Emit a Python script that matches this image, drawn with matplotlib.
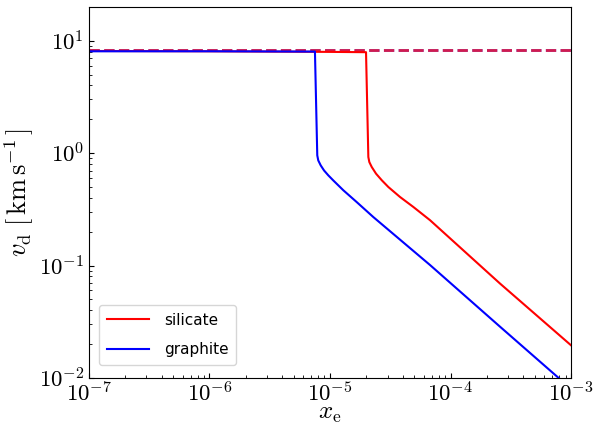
import math
import matplotlib
matplotlib.use("Agg")
import matplotlib.pyplot as plt
from matplotlib.ticker import FuncFormatter

plt.rcParams['mathtext.fontset'] = 'cm'
plt.rcParams['font.family'] = 'DejaVu Sans'

# Data
sil_x = [1e-7, 1e-6, 1e-5, 1.99e-5, 2.08e-5, 2.12e-5, 2.22e-5, 2.41e-5, 2.69e-5, 3.05e-5,
         3.81e-5, 4.91e-5, 6.76e-5, 2.57e-4, 1e-3]
sil_v = [8.1, 8.05, 7.95, 7.9, 0.923, 0.832, 0.752, 0.656, 0.573, 0.499,
         0.407, 0.332, 0.253, 0.0692, 0.0195]

gra_x = [1e-7, 1e-6, 7.50e-6, 7.84e-6, 7.99e-6, 8.37e-6, 8.92e-6, 9.68e-6, 1.065e-5,
         1.29e-5, 1.664e-5, 2.286e-5, 6.76e-5, 2.57e-4, 1e-3]
gra_v = [8.05, 8.05, 8.0, 0.955, 0.861, 0.778, 0.701, 0.634, 0.571,
         0.467, 0.367, 0.270, 0.101, 0.0286, 0.0080]

v_ref = 8.32   # dashed reference level

fig, ax = plt.subplots(figsize=(5.93, 4.28), dpi=100)
fig.subplots_adjust(left=0.150, right=0.963, top=0.984, bottom=0.117)

ax.axhline(v_ref, color="blue", ls="--", lw=2, alpha=0.6)
ax.axhline(v_ref, color="crimson", ls="--", lw=2, alpha=0.9)
ax.plot(sil_x, sil_v, color="red", lw=1.5, label="silicate")
ax.plot(gra_x, gra_v, color="blue", lw=1.5, label="graphite")

ax.set_xscale("log")
ax.set_yscale("log")
ax.set_xlim(1e-7, 1e-3)
ax.set_ylim(1e-2, 20)
fmt = FuncFormatter(lambda v, pos: r"$10^{%d}$" % round(math.log10(v)))
ax.xaxis.set_major_formatter(fmt)
ax.yaxis.set_major_formatter(fmt)
ax.tick_params(which="both", direction="in", labelsize=16.5)
ax.tick_params(axis="x", pad=3)
ax.set_xlabel(r"$x_\mathrm{e}$", fontsize=18, labelpad=-4)
ax.set_ylabel(r"$v_\mathrm{d}\;[\,\mathrm{km\,s^{-1}}\,]$", fontsize=19, labelpad=2)
ax.legend(loc="lower left", bbox_to_anchor=(0.021, 0.035), borderaxespad=0,
          fontsize=11, borderpad=0.5, labelspacing=0.95, handlelength=2.75,
          handletextpad=1.0)

fig.savefig("out.png")
